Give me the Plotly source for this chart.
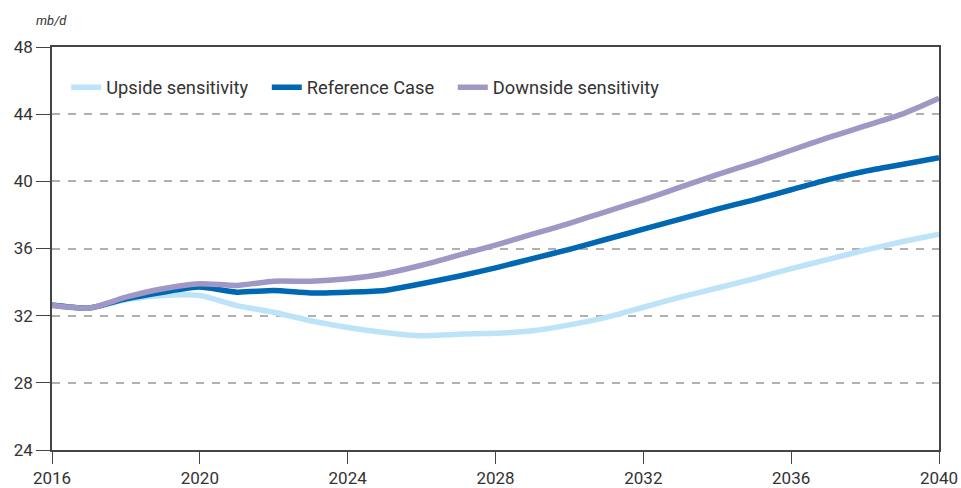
import plotly.graph_objects as go

years = list(range(2016, 2041))
upside = [32.6, 32.45, 32.95, 33.2, 33.2, 32.6, 32.2, 31.7, 31.3, 31.0, 30.8, 30.9,
          30.95, 31.1, 31.45, 31.9, 32.5, 33.1, 33.65, 34.2, 34.8, 35.35, 35.9, 36.4, 36.85]
reference = [32.63, 32.45, 33.0, 33.4, 33.7, 33.4, 33.5, 33.35, 33.4, 33.5, 33.9, 34.35,
             34.85, 35.4, 35.95, 36.55, 37.15, 37.75, 38.35, 38.9, 39.5, 40.1, 40.6, 41.0, 41.4]
downside = [32.6, 32.45, 33.1, 33.6, 33.9, 33.8, 34.05, 34.05, 34.2, 34.5, 35.0, 35.6,
            36.2, 36.85, 37.5, 38.2, 38.9, 39.65, 40.4, 41.1, 41.85, 42.6, 43.3, 44.0, 44.95]

x_ticks = [2016, 2020, 2024, 2028, 2032, 2036, 2040]
y_ticks = [24, 28, 32, 36, 40, 44, 48]

series = [
    ("Upside sensitivity", upside, "#BDE3F8"),
    ("Reference Case", reference, "#0068B3"),
    ("Downside sensitivity", downside, "#A197C4"),
]

pad = "\u00a0\u00a0\u00a0"
fig = go.Figure()
for i, (name, vals, col) in enumerate(series):
    label = name + (pad if i < len(series) - 1 else "")
    fig.add_trace(go.Scatter(x=years, y=vals, name=label, mode="lines",
                             line=dict(color=col, width=5.5, shape="spline", smoothing=0.6)))

fig.update_layout(
    width=961, height=488,
    margin=dict(l=52, r=22, t=47, b=38),
    paper_bgcolor="white", plot_bgcolor="white",
    font=dict(family="Roboto, sans-serif", size=17, color="#333333"),
    showlegend=True,
    legend=dict(orientation="h", x=0.016, y=0.9, xanchor="left", yanchor="middle",
                bgcolor="rgba(0,0,0,0)", font=dict(size=18.3, color="#333333"),
                itemwidth=30, tracegroupgap=0),
    xaxis=dict(range=[2016, 2040], tickvals=x_ticks, ticks="outside", ticklen=12,
               tickcolor="#444444", showgrid=False, showline=True, linecolor="#444444",
               linewidth=1.5, mirror=True, zeroline=False, automargin=False),
    yaxis=dict(range=[24, 48], tickvals=y_ticks, ticks="outside", ticklen=14,
               tickcolor="#444444", showgrid=True, gridcolor="#B0B0B0", griddash="8px,8px",
               gridwidth=2, showline=True, linecolor="#444444", linewidth=1.5,
               mirror=True, zeroline=False, automargin=False),
    annotations=[dict(text="<i>mb/d</i>", xref="paper", yref="paper", x=-0.02, y=1.0,
                      xanchor="left", yanchor="bottom", yshift=17, showarrow=False,
                      font=dict(size=13, color="#333333"))],
)

fig.write_html("out.html", config={"displayModeBar": False},
               post_script="document.body.style.margin='0';document.body.style.overflow='hidden';")
